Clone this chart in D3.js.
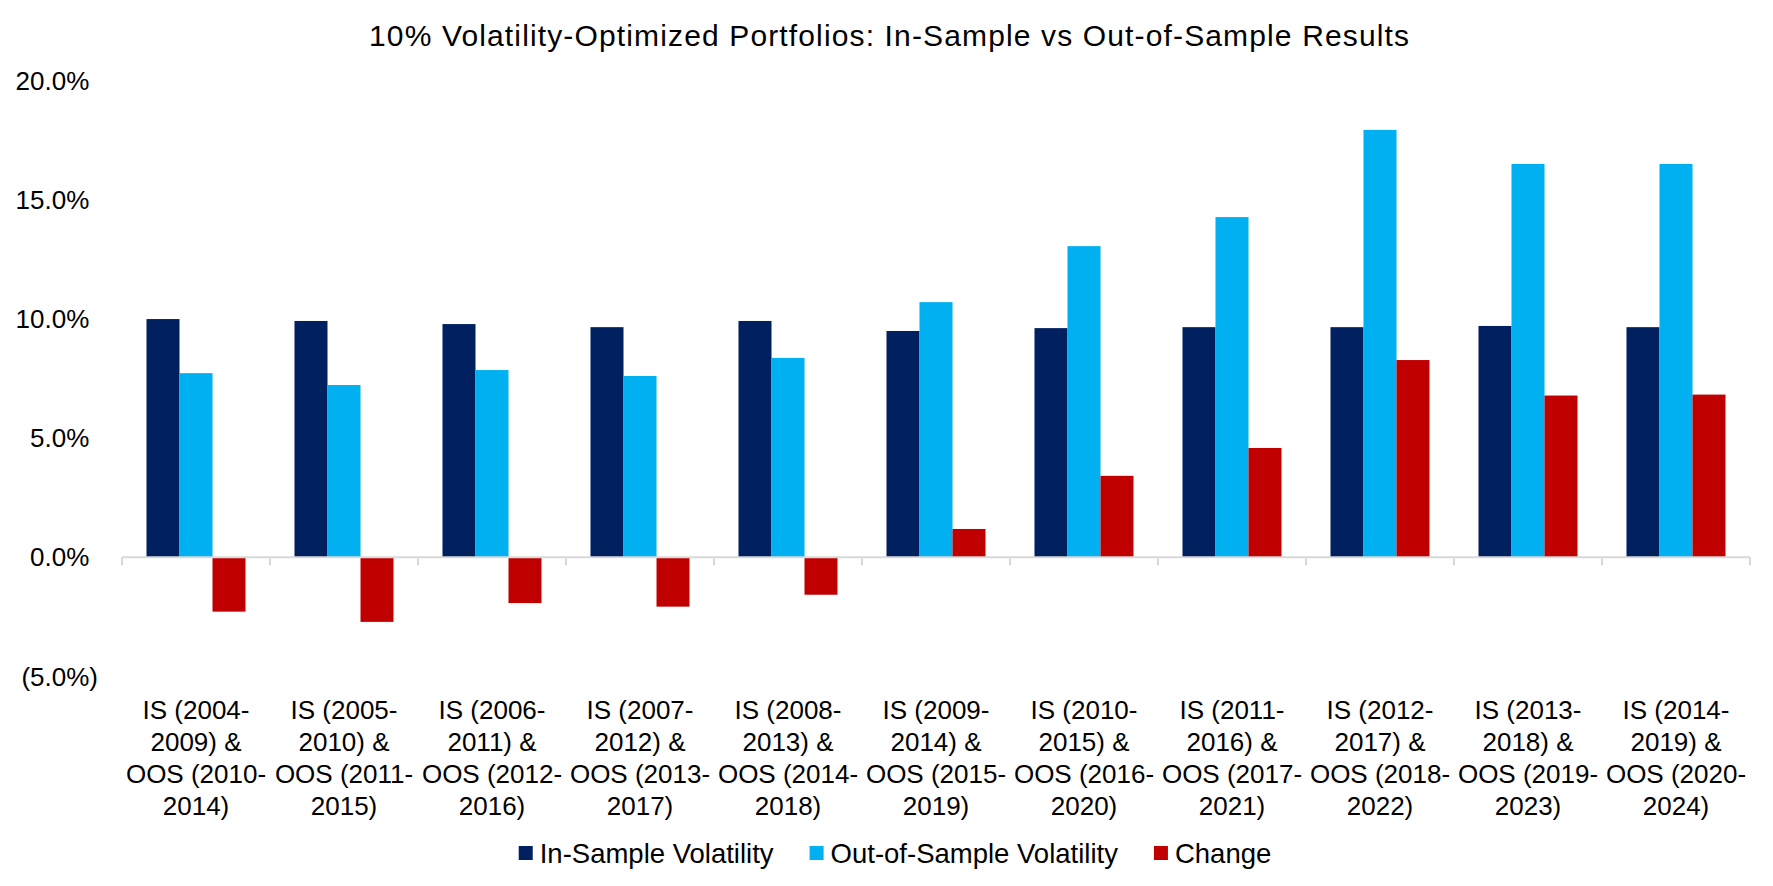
<!DOCTYPE html>
<html>
<head>
<meta charset="utf-8">
<script src="https://cdn.jsdelivr.net/npm/d3@7"></script>
<style>
  html, body { margin: 0; padding: 0; background: #fff; }
  svg { display: block; }
  text { font-family: "Liberation Sans", Arial, sans-serif; fill: #000; }
</style>
</head>
<body>
<svg id="chart" width="1773" height="886"></svg>
<script>
const title = "10% Volatility-Optimized Portfolios: In-Sample vs Out-of-Sample Results";
const categories = [
  "IS (2004-2009) & OOS (2010-2014)",
  "IS (2005-2010) & OOS (2011-2015)",
  "IS (2006-2011) & OOS (2012-2016)",
  "IS (2007-2012) & OOS (2013-2017)",
  "IS (2008-2013) & OOS (2014-2018)",
  "IS (2009-2014) & OOS (2015-2019)",
  "IS (2010-2015) & OOS (2016-2020)",
  "IS (2011-2016) & OOS (2017-2021)",
  "IS (2012-2017) & OOS (2018-2022)",
  "IS (2013-2018) & OOS (2019-2023)",
  "IS (2014-2019) & OOS (2020-2024)"
];
const seriesNames = ["In-Sample Volatility", "Out-of-Sample Volatility", "Change"];
const inSample  = [10.00, 9.92, 9.79, 9.66, 9.92, 9.50, 9.62, 9.66, 9.66, 9.71, 9.66];
const outSample = [7.73, 7.23, 7.86, 7.61, 8.37, 10.71, 13.06, 14.28, 17.94, 16.51, 16.51];
const change    = [-2.28, -2.71, -1.92, -2.07, -1.57, 1.19, 3.42, 4.59, 8.28, 6.79, 6.83];
const yTicks = [-5, 0, 5, 10, 15, 20];
const colors = ["#002060", "#00B0F0", "#C00000"];

const series = [inSample, outSample, change];
const svg = d3.select("#chart");
const FS = 26;

const x = d3.scaleBand().domain(d3.range(categories.length)).range([122, 1750])
  .paddingInner(0.331).paddingOuter(0.1655);
const xs = d3.scaleBand().domain(d3.range(series.length)).range([0, x.bandwidth()]).padding(0);
const y = d3.scaleLinear().domain([-5, 20]).range([676.45, 80.8]);

// title
svg.append("text").attr("x", 889).attr("y", 46).attr("text-anchor", "middle")
  .attr("font-size", 30).attr("textLength", 1040).attr("lengthAdjust", "spacing").text(title);

// y axis labels
const fmt = v => v < 0 ? "(" + Math.abs(v).toFixed(1) + "%)" : v.toFixed(1) + "%";
svg.append("g").selectAll("text").data(yTicks).join("text")
  .attr("x", d => d < 0 ? 98 : 89.3)
  .attr("y", d => y(d)).attr("dy", "0.35em")
  .attr("text-anchor", "end").attr("font-size", FS)
  .text(fmt);

// bars
const groups = svg.append("g").selectAll("g").data(categories).join("g")
  .attr("transform", (d, i) => `translate(${x(i)},0)`);
groups.selectAll("rect").data((d, i) => series.map((s, k) => ({k, v: s[i]}))).join("rect")
  .attr("x", d => xs(d.k))
  .attr("width", xs.bandwidth())
  .attr("y", d => y(Math.max(0, d.v)))
  .attr("height", d => Math.abs(y(d.v) - y(0)))
  .attr("fill", d => colors[d.k]);

// x axis line and ticks
const axisG = svg.append("g");
axisG.append("line").attr("x1", 122).attr("x2", 1750).attr("y1", y(0)).attr("y2", y(0))
  .attr("stroke", "#D9D9D9").attr("stroke-width", 2);
const bounds = d3.range(categories.length + 1).map(i => i === categories.length ? 1750 : x(i) - x.step() * x.paddingInner() / 2);
axisG.selectAll("line.tick").data(bounds).join("line").attr("class", "tick")
  .attr("x1", d => d).attr("x2", d => d).attr("y1", y(0)).attr("y2", y(0) + 8)
  .attr("stroke", "#D9D9D9").attr("stroke-width", 2);

// x labels
const splitLabel = s => {
  const m = s.match(/^(IS \(\d{4}-)(\d{4}\) &) (OOS \(\d{4}-)(\d{4}\))$/);
  return m ? m.slice(1) : [s];
};
const xl = svg.append("g").selectAll("text").data(categories).join("text")
  .attr("text-anchor", "middle").attr("font-size", FS)
  .attr("transform", (d, i) => `translate(${x(i) + x.bandwidth() / 2},719)`);
xl.selectAll("tspan").data(d => splitLabel(d)).join("tspan")
  .attr("x", 0).attr("y", (d, j) => j * 32).text(d => d);

// legend
const leg = svg.append("g");
const LFS = 27.5;
const items = seriesNames.map((n, k) => {
  const g = leg.append("g");
  g.append("rect").attr("width", 14).attr("height", 14).attr("y", -7).attr("fill", colors[k]);
  const t = g.append("text").attr("x", 21).attr("dy", "0.35em").attr("font-size", LFS).text(n);
  return {g, w: 21 + t.node().getComputedTextLength()};
});
const gap = 36;
const total = d3.sum(items, d => d.w) + gap * (items.length - 1);
let cx = 895 - total / 2;
items.forEach(it => { it.g.attr("transform", `translate(${cx},853)`); cx += it.w + gap; });
</script>
</body>
</html>
